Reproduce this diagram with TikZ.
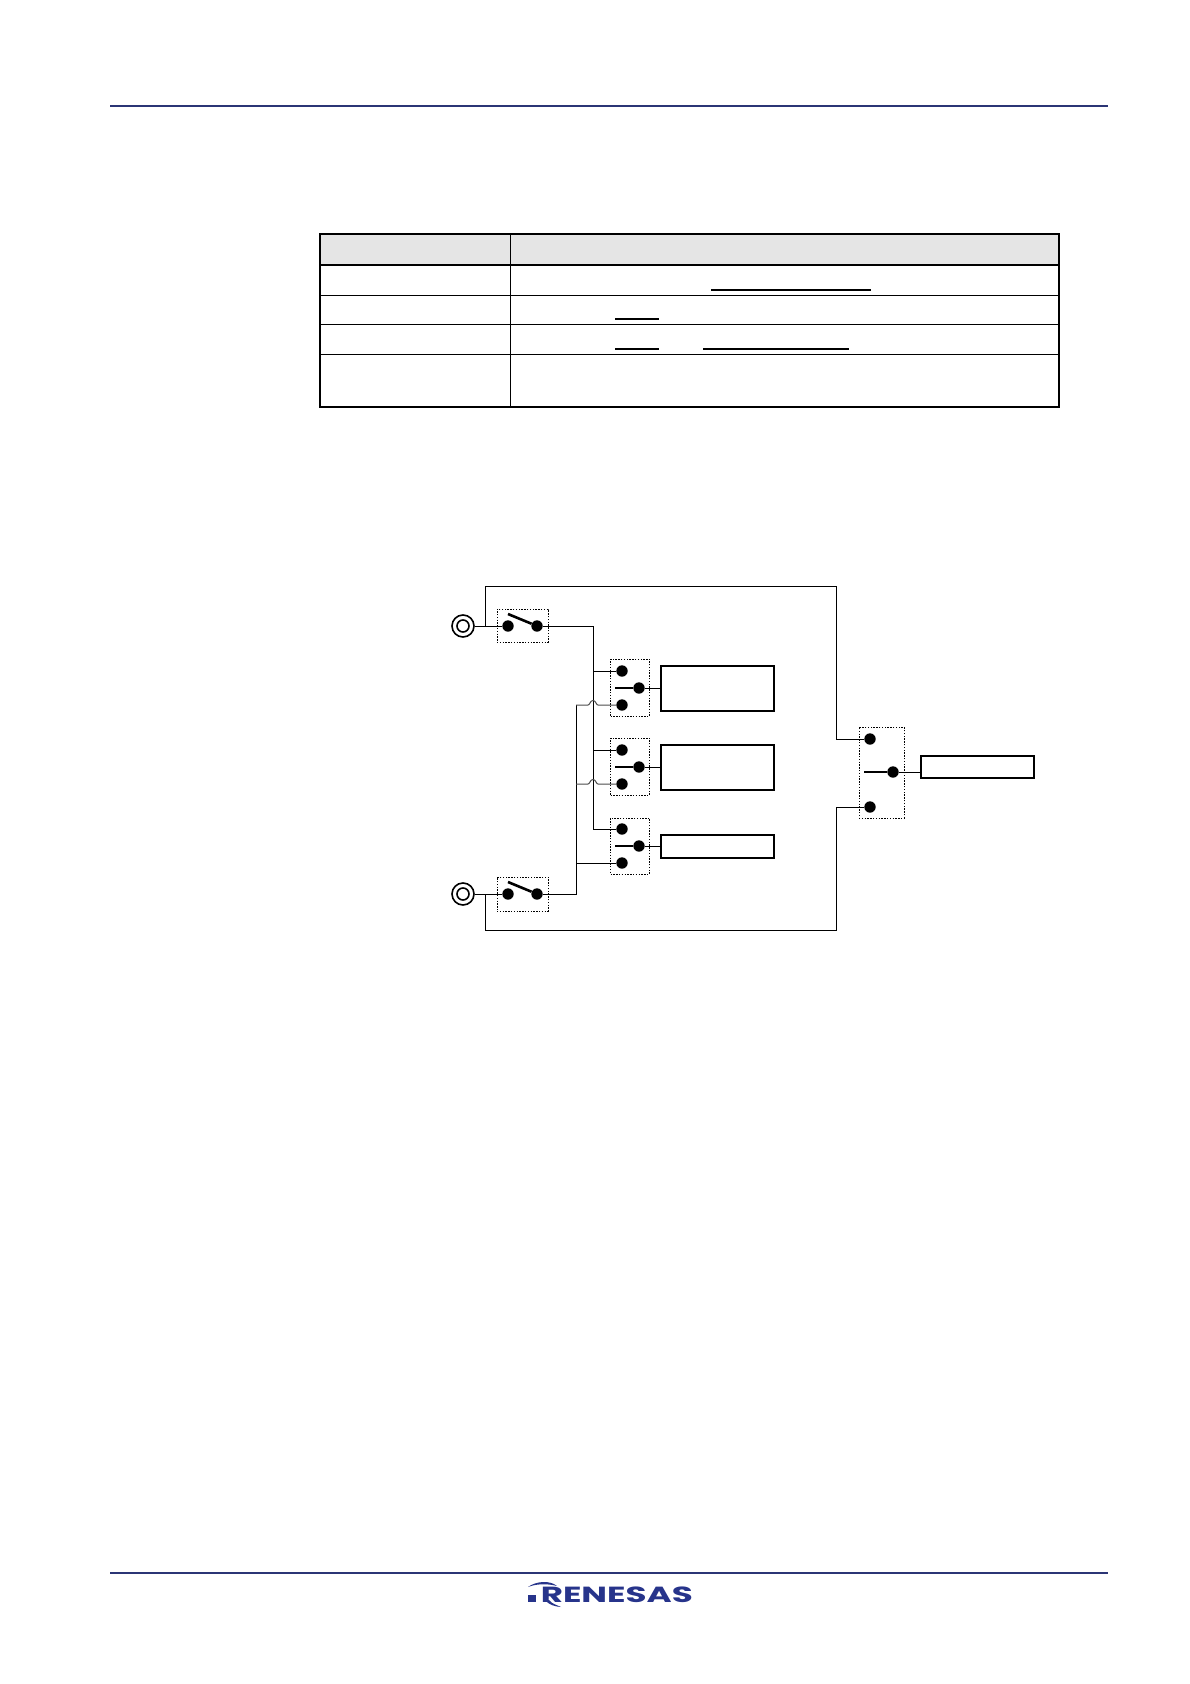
\documentclass[tikz,border=0pt]{standalone}
\usepackage{fontspec}
\newfontfamily\logofont{Poppins}
\definecolor{rulenavy}{HTML}{2B3575}
\definecolor{logonavy}{HTML}{27348B}
\tikzset{
  wire/.style={line width=1pt},
  humpwire/.style={line width=1pt,black!70},
  blade/.style={line width=2.6pt},
  dot/.style={circle,fill=black,inner sep=0pt,minimum size=11.4pt},
  selbox/.style={draw,line width=0.7pt,dash pattern=on 1.4pt off 1.4pt,inner sep=0pt},
  block/.style={draw,line width=1.8pt,inner sep=0pt},
  termout/.style={circle,draw,line width=1.6pt,inner sep=0pt,minimum size=22pt},
  termin/.style={circle,draw,line width=1.6pt,inner sep=0pt,minimum size=12pt},
}
\begin{document}
\begin{tikzpicture}[x=1pt,y=-1pt]
  \useasboundingbox (0,0) rectangle (1190,1684);
  %% page rules
  \draw[rulenavy,line width=1.5pt] (110,106) -- (1108,106);
  \draw[rulenavy,line width=1.5pt] (110,1573) -- (1108,1573);
  %% table
  \fill[black!10] (320,234) rectangle (1059,265);
  \draw[line width=1pt] (320,295.5) -- (1059,295.5);
  \draw[line width=1pt] (320,324.5) -- (1059,324.5);
  \draw[line width=1pt] (320,354) -- (1059,354);
  \draw[line width=1pt] (510,234) -- (510,407);
  \draw[line width=1.8pt] (320,265) -- (1059,265);
  \draw[line width=1.8pt] (320,234) rectangle (1059,407);
  \draw[line width=1.8pt] (711,290) -- (871,290);
  \draw[line width=1.1pt] (615,319) -- (659,319);
  \draw[line width=1.1pt] (615,349) -- (659,349);
  \draw[line width=1.1pt] (703,349) -- (849,349);
  %% terminals
  \node[termout] (term1) at (463,626) {};
  \node[termin] (term1i) at (463,626) {};
  \node[termout] (term2) at (463,894) {};
  \node[termin] (term2i) at (463,894) {};
  %% input switches
  \node[selbox,minimum width=51pt,minimum height=33pt] (swbox1) at (522.5,625.5) {};
  \node[dot] (sw1a) at (508,626) {};
  \node[dot] (sw1b) at (537,626) {};
  \node[selbox,minimum width=51pt,minimum height=34pt] (swbox2) at (522.5,894) {};
  \node[dot] (sw2a) at (508,894) {};
  \node[dot] (sw2b) at (537,894) {};
  \coordinate (bl1) at (508,614);
  \coordinate (bl2) at (508,882);
  \draw[blade] (bl1) -- (sw1b);
  \draw[blade] (bl2) -- (sw2b);
  %% selectors
  \node[selbox,minimum width=39pt,minimum height=57pt] (selbox1) at (630,687.5) {};
  \node[dot] (s1a) at (622,671) {};
  \node[dot] (s1b) at (622,705) {};
  \node[dot] (s1c) at (639,688) {};
  \node[selbox,minimum width=39pt,minimum height=57pt] (selbox2) at (630,766.5) {};
  \node[dot] (s2a) at (622,750) {};
  \node[dot] (s2b) at (622,784) {};
  \node[dot] (s2c) at (639,767) {};
  \node[selbox,minimum width=39pt,minimum height=56pt] (selbox3) at (630,846) {};
  \node[dot] (s3a) at (622,829) {};
  \node[dot] (s3b) at (622,863) {};
  \node[dot] (s3c) at (639,846) {};
  \node[selbox,minimum width=45pt,minimum height=91pt] (selbox4) at (881.5,772.5) {};
  \node[dot] (s4a) at (870,739) {};
  \node[dot] (s4b) at (870,807) {};
  \node[dot] (s4c) at (893,772) {};
  \coordinate (pv1) at (615,688);
  \coordinate (pv2) at (615,767);
  \coordinate (pv3) at (615,846);
  \coordinate (pv4) at (864,772);
  \draw[blade] (pv1) -- (s1c);
  \draw[blade] (pv2) -- (s2c);
  \draw[blade] (pv3) -- (s3c);
  \draw[blade] (pv4) -- (s4c);
  %% blocks
  \node[block,minimum width=113pt,minimum height=45pt] (blk1) at (717.5,688.5) {};
  \node[block,minimum width=113pt,minimum height=45pt] (blk2) at (717.5,767.5) {};
  \node[block,minimum width=113pt,minimum height=23pt] (blk3) at (717.5,846.5) {};
  \node[block,minimum width=113pt,minimum height=22pt] (blk4) at (977.5,767) {};
  %% wiring
  \draw[wire] (term1) -- (sw1a);
  \draw[wire] (term2) -- (sw2a);
  \draw[wire] (s1c) -- (s1c -| blk1.west);
  \draw[wire] (s2c) -- (s2c -| blk2.west);
  \draw[wire] (s3c) -- (s3c -| blk3.west);
  \draw[wire] (s4c) -- (s4c -| blk4.west);
  \coordinate (bus1) at (593,626);
  \coordinate (bus2) at (576,894);
  \coordinate (jt1) at (485,626);
  \coordinate (jt2) at (485,894);
  \coordinate (ctop) at (485,586);
  \coordinate (cbot) at (485,930);
  \coordinate (rtop) at (836.5,586);
  \coordinate (rbot) at (836.5,930);
  \draw[wire] (sw1b) -- (bus1) |- (s3a);
  \draw[wire] (bus1 |- s1a) -- (s1a);
  \draw[wire] (bus1 |- s2a) -- (s2a);
  \draw[wire] (sw2b) -- (bus2) -- (bus2 |- s1b);
  \draw[wire] (bus2 |- s3b) -- (s3b);
  \draw[wire] (jt1) -- (ctop) -- (rtop) |- (s4a);
  \draw[wire] (jt2) -- (cbot) -- (rbot) |- (s4b);
  %% crossings
  \draw[humpwire] (bus2 |- s1b) -- (588,705) .. controls (590,705) and (590,700.5) .. (593,700.5) .. controls (596,700.5) and (596,705) .. (598,705) -- (s1b);
  \draw[humpwire] (bus2 |- s2b) -- (588,784) .. controls (590,784) and (590,779.5) .. (593,779.5) .. controls (596,779.5) and (596,784) .. (598,784) -- (s2b);
  %% logo
  \node[logonavy,inner sep=0pt,anchor=east] (logo) at (693,1594.5) {\logofont\resizebox{152pt}{15.6pt}{\bfseries RENESAS}};
  \fill[logonavy] (528,1595) rectangle (536,1602);
  \fill[logonavy] (528,1587) .. controls (536,1581) and (550,1580) .. (557,1586) .. controls (550,1584) and (538,1583) .. (528,1587) -- cycle;
  \fill[logonavy] (549,1600) .. controls (552,1604) and (557,1605) .. (561,1607) .. controls (555,1606.5) and (549,1605) .. (545,1600) -- cycle;
\end{tikzpicture}
\end{document}
